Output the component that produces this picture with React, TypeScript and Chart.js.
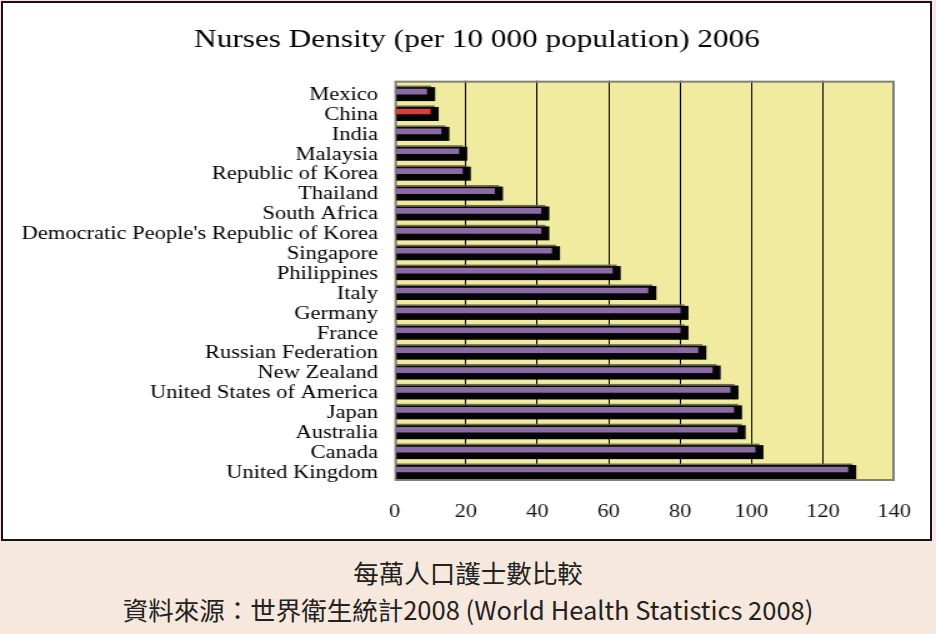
import { useEffect, useRef } from 'react';
import { Chart, registerables } from 'chart.js';

Chart.register(...registerables);

// Nurses per 10 000 population, 2006 (World Health Statistics 2008)
const COUNTRIES = [
  'Mexico',
  'China',
  'India',
  'Malaysia',
  'Republic of Korea',
  'Thailand',
  'South Africa',
  "Democratic People's Republic of Korea",
  'Singapore',
  'Philippines',
  'Italy',
  'Germany',
  'France',
  'Russian Federation',
  'New Zealand',
  'United States of America',
  'Japan',
  'Australia',
  'Canada',
  'United Kingdom',
];
const NURSES_PER_10K = [9, 10, 13, 18, 19, 28, 41, 41, 44, 61, 71, 80, 80, 85, 89, 94, 95, 96, 101, 127];
const HIGHLIGHT_COUNTRY = 'China';
const X_MIN = 0;
const X_MAX = 140;
const X_STEP = 20;

const TITLE = 'Nurses Density (per 10 000 population) 2006';
const CAPTION = '每萬人口護士數比較';
const SOURCE = '資料來源：世界衛生統計2008 (World Health Statistics 2008)';

// The chart is laid out on a narrower canvas and widened with CSS,
// which gives the broad lettering of the printed figure.
const CANVAS_W = 749;
const CANVAS_H = 540;
const CSS_W = 936;
const SX = CSS_W / CANVAS_W;

const PLOT_LEFT = 394.5 / SX;
const PLOT_RIGHT = 896 / SX;
const PLOT_TOP = 80.7;
const PAD_RIGHT = CANVAS_W - PLOT_RIGHT;
const X_AXIS_H = 59;
const TITLE_X = 477 / SX;
const TITLE_Y = 40;

const YELLOW = '#f0eb9e';
const PURPLE = '#8a6ba6';
const RED = '#e33b3d';
const SHADOW = '#050505';
const TOP_EDGE = '#6b6a4a';
const FRAME = '#808080';
const SERIF = "'Liberation Serif', 'Times New Roman', serif";

const plotDecor = {
  id: 'plotDecor',
  beforeDraw(chart: any) {
    const { ctx, chartArea: a } = chart;
    ctx.save();
    ctx.fillStyle = YELLOW;
    ctx.fillRect(a.left, a.top, a.right - a.left, a.bottom - a.top);
    ctx.restore();
  },
  beforeDatasetsDraw(chart: any) {
    const { ctx, chartArea: a } = chart;
    ctx.save();
    ctx.strokeStyle = FRAME;
    ctx.lineWidth = 2;
    ctx.strokeRect(a.left + 1, a.top + 1, a.right - a.left - 1.5, a.bottom - a.top - 2);
    // depth of each bar: dark top edge and black body behind the coloured face
    const meta = chart.getDatasetMeta(0);
    meta.data.forEach((el: any) => {
      const { x, y, base } = el.getProps(['x', 'y', 'base'], true);
      ctx.fillStyle = TOP_EDGE;
      ctx.fillRect(base + 1, y - 6, x + 3.6 - base - 1, 1.5);
      ctx.fillStyle = SHADOW;
      ctx.fillRect(base + 1, y - 4.5, x + 6.8 - base - 1, 14);
    });
    ctx.restore();
  },
  afterDraw(chart: any) {
    const { ctx } = chart;
    ctx.save();
    ctx.fillStyle = '#000';
    ctx.font = `25px ${SERIF}`;
    ctx.textAlign = 'center';
    ctx.textBaseline = 'middle';
    ctx.fillText(TITLE, TITLE_X, TITLE_Y);
    ctx.restore();
  },
};

export default function App() {
  const canvasRef = useRef<HTMLCanvasElement | null>(null);

  useEffect(() => {
    const canvas = canvasRef.current;
    if (!canvas) return;
    const chart = new Chart(canvas, {
      type: 'bar',
      data: {
        datasets: [
          {
            label: TITLE,
            data: NURSES_PER_10K.map((v, i) => ({ x: v, y: i })),
            backgroundColor: COUNTRIES.map((c) => (c === HIGHLIGHT_COUNTRY ? RED : PURPLE)),
            borderWidth: 0,
            barThickness: 5,
          },
        ],
      },
      options: {
        indexAxis: 'y',
        responsive: false,
        animation: false,
        devicePixelRatio: 1,
        layout: { padding: { left: 0, right: PAD_RIGHT, top: PLOT_TOP, bottom: 0 } },
        plugins: {
          legend: { display: false },
          tooltip: { enabled: false },
          title: { display: false },
        },
        scales: {
          x: {
            type: 'linear',
            min: X_MIN,
            max: X_MAX,
            afterFit(scale: any) {
              scale.height = X_AXIS_H;
            },
            grid: {
              drawTicks: false,
              lineWidth: 1,
              color: (ctx: any) =>
                ctx.tick && (ctx.tick.value === X_MIN || ctx.tick.value === X_MAX) ? 'rgba(0,0,0,0)' : '#000',
            },
            border: { display: false },
            ticks: {
              stepSize: X_STEP,
              padding: 20,
              maxRotation: 0,
              color: '#151515',
              font: { family: SERIF, size: 18 },
            },
          },
          y: {
            type: 'linear',
            reverse: true,
            offset: false,
            min: -0.548,
            max: 19.578,
            afterFit(scale: any) {
              scale.width = PLOT_LEFT;
            },
            afterBuildTicks(scale: any) {
              scale.ticks = COUNTRIES.map((_, i) => ({ value: i }));
            },
            grid: { display: false, drawTicks: false },
            border: { display: false },
            ticks: {
              autoSkip: false,
              padding: 13.2,
              labelOffset: 3.5,
              color: '#000',
              font: { family: SERIF, size: 18 },
              callback: (value: any) => COUNTRIES[value] ?? '',
            },
          },
        },
      },
      plugins: [plotDecor],
    });
    return () => chart.destroy();
  }, []);

  const captionStyle = {
    position: 'absolute' as const,
    left: 0,
    width: 936,
    textAlign: 'center' as const,
    fontFamily: "'Noto Sans CJK TC', sans-serif",
    fontSize: 25.5,
    lineHeight: '30px',
    color: '#222',
  };

  return (
    <div
      style={{
        position: 'absolute',
        left: 0,
        top: 0,
        width: 936,
        height: 634,
        background: '#f6e8dc',
        overflow: 'hidden',
      }}
    >
      <div style={{ position: 'absolute', left: 0, top: 0, width: 936, height: 541, background: '#fbe2e8' }} />
      <div
        style={{
          position: 'absolute',
          left: 1,
          top: 1,
          width: 931,
          height: 540,
          boxSizing: 'border-box',
          border: '2px solid #141414',
          background: '#fff',
        }}
      />
      <canvas
        ref={canvasRef}
        width={CANVAS_W}
        height={CANVAS_H}
        style={{ position: 'absolute', left: 0, top: 0, width: CSS_W, height: CANVAS_H }}
      />
      <div style={{ ...captionStyle, top: 557 }}>{CAPTION}</div>
      <div style={{ ...captionStyle, top: 594 }}>{SOURCE}</div>
    </div>
  );
}
